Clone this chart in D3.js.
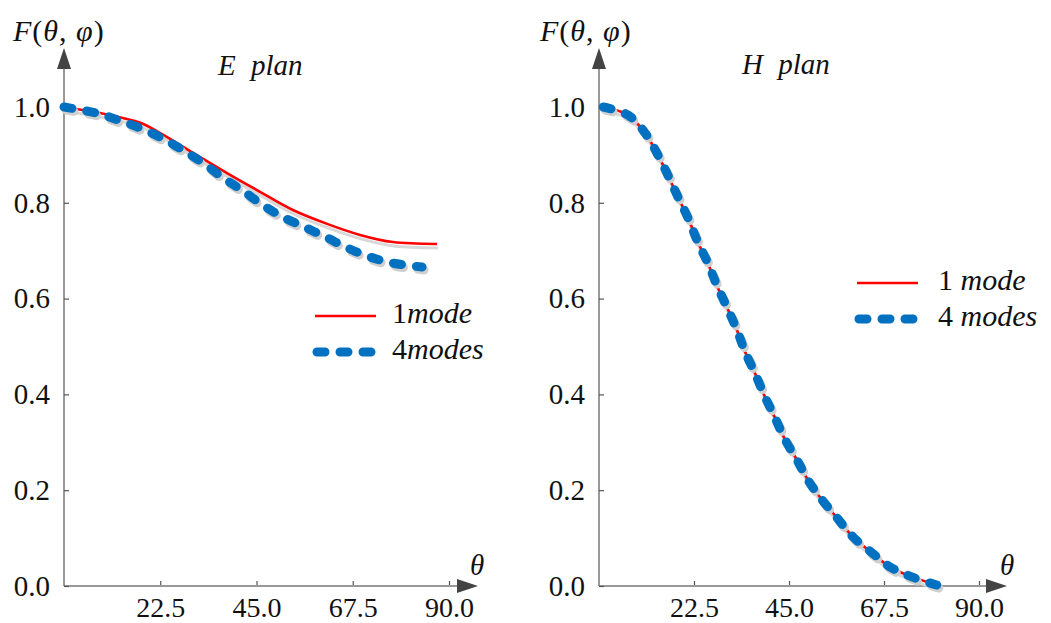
<!DOCTYPE html>
<html>
<head>
<meta charset="utf-8">
<script src="https://cdn.jsdelivr.net/npm/d3@7"></script>
</head>
<body style="margin:0">
<svg id="chart" width="1051" height="623"></svg>
<script>
// ---------- data ----------
const xTicks = [22.5, 45.0, 67.5, 90.0];
const yTicks = [0.0, 0.2, 0.4, 0.6, 0.8, 1.0];

// E plan
const thetaE1 = [0, 10.8, 17.8, 22.4, 30.2, 38.1, 45.8, 53.5, 61.5, 69.2, 76.9, 87.2];
const ePlan1  = [1.0, 0.983, 0.967, 0.946, 0.904, 0.862, 0.823, 0.785, 0.756, 0.733, 0.718, 0.714];
const thetaE4 = [0, 7.7, 12.6, 17.8, 22.9, 27.8, 32.5, 37.2, 41.8, 46.5, 51.2, 56.3, 61.5, 66.2, 71.5, 76.9, 83.7];
const ePlan4  = [1.0, 0.987, 0.973, 0.956, 0.935, 0.910, 0.883, 0.852, 0.825, 0.795, 0.770, 0.749, 0.727, 0.706, 0.687, 0.674, 0.666];

// H plan
const thetaH1 = [1, 6.9, 10.9, 13.7, 16.3, 18.7, 21.1, 23.4, 25.8, 27.9, 30.3, 32.6, 34.6, 36.9, 39.3, 41.7, 44.1, 46.9, 49.5, 52.8, 56.4, 60.2, 64.7, 68.9, 74.1, 81.0];
const hPlan1  = [1.0, 0.983, 0.946, 0.904, 0.858, 0.812, 0.768, 0.718, 0.674, 0.628, 0.582, 0.536, 0.489, 0.445, 0.395, 0.351, 0.305, 0.263, 0.221, 0.180, 0.142, 0.102, 0.069, 0.040, 0.019, 0.0];
const thetaH4 = [1, 6.9, 10.9, 13.7, 16.3, 18.7, 21.1, 23.4, 25.8, 27.9, 30.3, 32.6, 34.6, 36.9, 39.3, 41.7, 44.1, 46.9, 49.5, 52.8, 56.4, 60.2, 64.7, 68.9, 74.1, 80.0];
const hPlan4  = [1.0, 0.983, 0.946, 0.904, 0.858, 0.812, 0.768, 0.718, 0.674, 0.628, 0.582, 0.536, 0.489, 0.445, 0.395, 0.351, 0.305, 0.263, 0.221, 0.180, 0.142, 0.102, 0.069, 0.040, 0.019, 0.002];

const legendLabels = [["1", "mode"], ["4", "modes"]];
const panelTitles = [["E", "plan"], ["H", "plan"]];

// ---------- drawing ----------
const FAMILY = "Times New Roman";
const svg = d3.select("#chart");
const RED = "#ff0000", BLUE = "#0070c0", AXIS = "#777", ARROW = "#444";
const DASH = "8 15";

const panels = [
  { x0: 64, x1: 449, arrowX: 478, title: panelTitles[0], titleX: 218, titleY: 75,
    s1: [thetaE1, ePlan1], s4: [thetaE4, ePlan4], legX: 315, legY1: 316, legY2: 352, legTextX: 392, gap: "" ,
    fLabelX: 13, thetaX: 470 },
  { x0: 599, x1: 979, arrowX: 1007, title: panelTitles[1], titleX: 742, titleY: 74,
    s1: [thetaH1, hPlan1], s4: [thetaH4, hPlan4], legX: 857, legY1: 283, legY2: 319, legTextX: 938, gap: " ",
    fLabelX: 540, thetaX: 1000 }
];

const y = d3.scaleLinear().domain([0, 1]).range([586, 107]);

function serif(sel) { return sel.style("font-family", () => `"${FAMILY}"`).attr("fill", "#111"); }

panels.forEach(p => {
  const x = d3.scaleLinear().domain([0, 90]).range([p.x0, p.x1]);
  const g = svg.append("g");

  // axis lines
  g.append("line").attr("x1", p.x0).attr("x2", p.arrowX - 18).attr("y1", y(0)).attr("y2", y(0))
    .attr("stroke", AXIS).attr("stroke-width", 1.5);
  g.append("line").attr("x1", p.x0).attr("x2", p.x0).attr("y1", y(0)).attr("y2", 66)
    .attr("stroke", AXIS).attr("stroke-width", 1.5);
  // arrows
  g.append("path").attr("d", `M${p.arrowX},${y(0)} L${p.arrowX - 21},${y(0) - 7} L${p.arrowX - 21},${y(0) + 7} Z`).attr("fill", ARROW);
  g.append("path").attr("d", `M${p.x0},48 L${p.x0 - 7},69 L${p.x0 + 7},69 Z`).attr("fill", ARROW);

  // x axis ticks
  const xa = d3.axisBottom(x).tickValues(xTicks).tickSizeInner(-5).tickSizeOuter(0)
    .tickPadding(0).tickFormat(d3.format(".1f"));
  const gx = g.append("g").attr("transform", `translate(0,${y(0)})`).call(xa);
  gx.attr("font-family", FAMILY);
  gx.select(".domain").remove();
  gx.selectAll(".tick line").attr("stroke", "#555").attr("stroke-width", 1.2).attr("y1", -1);
  serif(gx.selectAll(".tick text")).attr("font-size", 28).attr("dy", null).attr("y", 31);

  // y axis ticks
  const ya = d3.axisLeft(y).tickValues(yTicks).tickSizeInner(-5).tickSizeOuter(0)
    .tickPadding(14).tickFormat(d3.format(".1f"));
  const gy = g.append("g").attr("transform", `translate(${p.x0},0)`).call(ya);
  gy.attr("font-family", FAMILY);
  gy.select(".domain").remove();
  gy.selectAll(".tick line").attr("stroke", "#555").attr("stroke-width", 1.2);
  serif(gy.selectAll(".tick text")).attr("font-size", 29);

  // axis labels
  const fl = serif(g.append("text")).attr("x", p.fLabelX).attr("y", 41).attr("font-size", 30)
    .attr("letter-spacing", 1);
  fl.append("tspan").attr("font-style", "italic").text("F");
  fl.append("tspan").text("(");
  fl.append("tspan").attr("font-style", "italic").text("θ");
  fl.append("tspan").text(", ");
  fl.append("tspan").attr("font-style", "italic").text("φ");
  fl.append("tspan").text(")");
  serif(g.append("text")).attr("x", p.thetaX).attr("y", 575).attr("font-size", 29)
    .attr("font-style", "italic").text("θ");

  // title
  serif(g.append("text")).attr("x", p.titleX).attr("y", p.titleY).attr("font-size", 29)
    .attr("font-style", "italic").attr("word-spacing", 8).text(p.title[0] + " " + p.title[1]);

  // lines
  const line = d3.line().x(d => x(d[0])).y(d => y(d[1])).curve(d3.curveCatmullRom.alpha(0.5));
  const d1 = d3.zip(p.s1[0], p.s1[1]);
  const d4 = d3.zip(p.s4[0], p.s4[1]);

  // shadows + series
  g.append("path").datum(d1).attr("d", line).attr("fill", "none").attr("stroke", "#d8d8d8")
    .attr("stroke-width", 3).attr("transform", "translate(1,4)");
  g.append("path").datum(d1).attr("d", line).attr("fill", "none").attr("stroke", RED).attr("stroke-width", 2.6);
  g.append("path").datum(d4).attr("d", line).attr("fill", "none").attr("stroke", "#cfcfcf")
    .attr("stroke-width", 9).attr("stroke-linecap", "round").attr("stroke-dasharray", DASH)
    .attr("transform", "translate(2,3)");
  g.append("path").datum(d4).attr("d", line).attr("fill", "none").attr("stroke", BLUE)
    .attr("stroke-width", 9).attr("stroke-linecap", "round").attr("stroke-dasharray", DASH);

  // legend
  g.append("line").attr("x1", p.legX).attr("x2", p.legX + 61).attr("y1", p.legY1).attr("y2", p.legY1)
    .attr("stroke", RED).attr("stroke-width", 2.6);
  g.append("line").attr("x1", p.legX + 2).attr("x2", p.legX + 61).attr("y1", p.legY2).attr("y2", p.legY2)
    .attr("stroke", BLUE).attr("stroke-width", 9).attr("stroke-linecap", "round").attr("stroke-dasharray", DASH);
  [p.legY1, p.legY2].forEach((ly, i) => {
    const t = serif(g.append("text")).attr("x", p.legTextX).attr("y", ly + 7).attr("font-size", 30);
    t.append("tspan").text(legendLabels[i][0] + p.gap);
    t.append("tspan").attr("font-style", "italic").text(legendLabels[i][1]);
  });
});
</script>
</body>
</html>
